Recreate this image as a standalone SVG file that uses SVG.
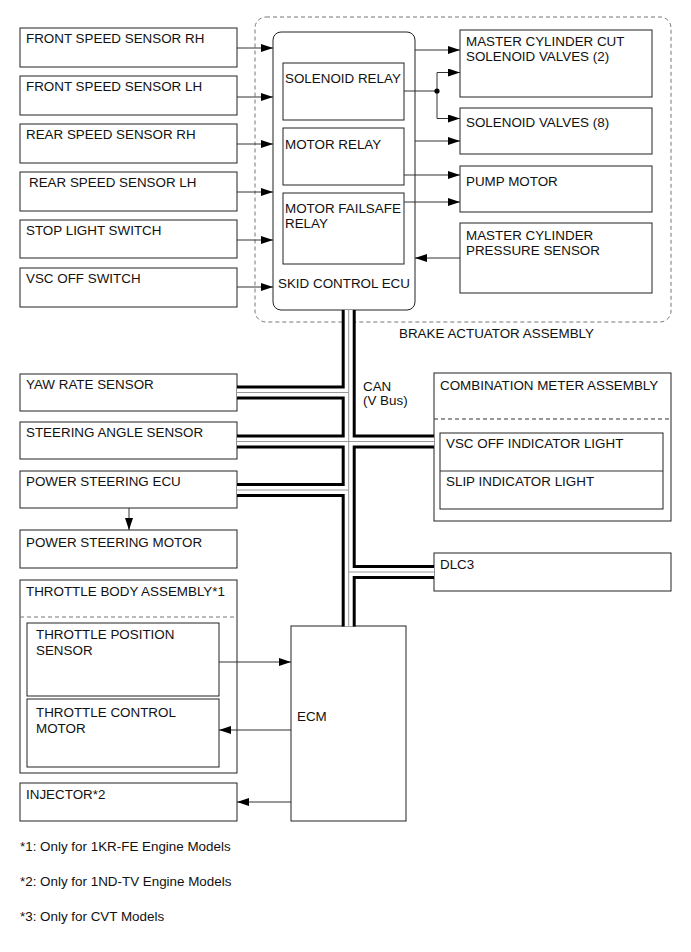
<svg xmlns="http://www.w3.org/2000/svg" width="691" height="952" viewBox="0 0 691 952">
<defs>
<marker id="ah" markerUnits="userSpaceOnUse" markerWidth="12" markerHeight="8" refX="12" refY="4" orient="auto">
<path d="M0,0 L12,4 L0,8 z" fill="#000"/>
</marker>
</defs>
<style>
text{font-family:"Liberation Sans",Arial,sans-serif;font-size:13.4px;fill:#111}
.box{fill:#fff;stroke:#222;stroke-width:1}
.dash{fill:none;stroke:#777;stroke-width:1;stroke-dasharray:4,3}
.ln{fill:none;stroke:#333;stroke-width:1;marker-end:url(#ah)}
.pl{fill:none;stroke:#333;stroke-width:1}
.cb{fill:none;stroke:#000;stroke-width:14}
.cw{fill:none;stroke:#fff;stroke-width:8}
.cg{fill:none;stroke:#999;stroke-width:1}
</style>
<rect x="255" y="17" width="416" height="305" rx="11" class="dash"/>
<text x="399" y="338">BRAKE ACTUATOR ASSEMBLY</text>
<g id="fsrh"><rect x="20" y="28" width="217" height="39" class="box"/><text x="26" y="43">FRONT SPEED SENSOR RH</text></g>
<g id="fslh"><rect x="20" y="76" width="217" height="39" class="box"/><text x="26" y="91">FRONT SPEED SENSOR LH</text></g>
<g id="rsrh"><rect x="20" y="124" width="217" height="39" class="box"/><text x="26" y="139">REAR SPEED SENSOR RH</text></g>
<g id="rslh"><rect x="20" y="172" width="217" height="39" class="box"/><text x="29" y="187">REAR SPEED SENSOR LH</text></g>
<g id="stop"><rect x="20" y="220" width="217" height="38" class="box"/><text x="26" y="235">STOP LIGHT SWITCH</text></g>
<g id="vscsw"><rect x="20" y="268" width="217" height="39" class="box"/><text x="26" y="283">VSC OFF SWITCH</text></g>
<g id="ecu">
<rect x="273" y="32" width="142" height="278" rx="8" class="box"/>
<rect x="283" y="63" width="121" height="57" class="box"/><text x="285" y="83">SOLENOID RELAY</text>
<rect x="283" y="128" width="121" height="57" class="box"/><text x="285" y="149">MOTOR RELAY</text>
<rect x="283" y="193" width="121" height="71" class="box"/><text x="285" y="213">MOTOR FAILSAFE</text><text x="285" y="228">RELAY</text>
<text x="278" y="288">SKID CONTROL ECU</text>
</g>
<g id="mccut"><rect x="460" y="30" width="192" height="67" class="box"/><text x="466" y="46">MASTER CYLINDER CUT</text><text x="466" y="61">SOLENOID VALVES (2)</text></g>
<g id="sv"><rect x="460" y="108" width="192" height="46" class="box"/><text x="466" y="127">SOLENOID VALVES (8)</text></g>
<g id="pump"><rect x="460" y="166" width="192" height="46" class="box"/><text x="466" y="186">PUMP MOTOR</text></g>
<g id="mcps"><rect x="460" y="223" width="192" height="70" class="box"/><text x="466" y="240">MASTER CYLINDER</text><text x="466" y="255">PRESSURE SENSOR</text></g>
<g id="yaw"><rect x="20" y="374" width="217" height="37" class="box"/><text x="26" y="389">YAW RATE SENSOR</text></g>
<g id="steer"><rect x="20" y="422" width="217" height="37" class="box"/><text x="26" y="437">STEERING ANGLE SENSOR</text></g>
<g id="psecu"><rect x="20" y="471" width="217" height="37" class="box"/><text x="26" y="486">POWER STEERING ECU</text></g>
<g id="psmotor"><rect x="20" y="530" width="217" height="38" class="box"/><text x="26" y="547">POWER STEERING MOTOR</text></g>
<g id="throttle">
<rect x="20" y="580" width="217" height="193" class="box"/><text x="26" y="596">THROTTLE BODY ASSEMBLY*1</text>
<line x1="20" y1="617" x2="237" y2="617" class="dash"/>
<rect x="27" y="623" width="192" height="73" class="box"/><text x="36" y="639">THROTTLE POSITION</text><text x="36" y="655">SENSOR</text>
<rect x="27" y="699" width="192" height="68" class="box"/><text x="36" y="717">THROTTLE CONTROL</text><text x="36" y="733">MOTOR</text>
</g>
<g id="injector"><rect x="20" y="783" width="217" height="38" class="box"/><text x="26" y="799">INJECTOR*2</text></g>
<g id="ecm"><rect x="291" y="626" width="115" height="195" class="box"/><text x="297" y="721">ECM</text></g>
<g id="combo">
<rect x="434" y="373" width="237" height="148" class="box"/><text x="440" y="390">COMBINATION METER ASSEMBLY</text>
<line x1="434" y1="419" x2="671" y2="419" class="dash" style="stroke:#333"/>
<rect x="440" y="433" width="223" height="76" class="box"/>
<line x1="440" y1="471" x2="663" y2="471" class="pl"/>
<text x="446" y="448">VSC OFF INDICATOR LIGHT</text><text x="446" y="486">SLIP INDICATOR LIGHT</text>
</g>
<g id="dlc3"><rect x="434" y="553" width="237" height="38" class="box"/><text x="440" y="569">DLC3</text></g>
<g id="connectors">
<path class="ln" d="M237,48 H273"/>
<path class="ln" d="M237,97 H273"/>
<path class="ln" d="M237,144 H273"/>
<path class="ln" d="M237,192 H273"/>
<path class="ln" d="M237,240 H273"/>
<path class="ln" d="M237,287 H273"/>
<path class="ln" d="M415,50 H460"/>
<path class="pl" d="M404,91 H437"/>
<path class="ln" d="M437,91 V72.5 H460"/>
<path class="ln" d="M437,91 V118.5 H460"/>
<circle cx="437" cy="91" r="2.6" fill="#000"/>
<path class="ln" d="M415,141 H460"/>
<path class="ln" d="M404,175 H460"/>
<path class="ln" d="M404,202 H460"/>
<path class="ln" d="M460,258 H415"/>
<path class="ln" d="M129,508 V530"/>
<path class="ln" d="M219,662 H291"/>
<path class="ln" d="M291,730 H219"/>
<path class="ln" d="M291,802 H237"/>
<g id="can">
<path class="cb" d="M348.7,310 V626.5 M237,392.5 H348.7 M237,441.5 H434 M237,490 H348.7 M348.7,572 H434"/>
<path class="cw" d="M348.7,310 V626.5 M237,392.5 H348.7 M237,441.5 H434 M237,490 H348.7 M348.7,572 H434"/>
<path class="cg" d="M348.7,310 V626.5 M237,392.5 H348.7 M237,441.5 H434 M237,490 H348.7 M348.7,572 H434"/>
</g>
</g>
<text x="363" y="391">CAN</text>
<text x="363" y="405">(V Bus)</text>
<text x="20" y="851">*1: Only for 1KR-FE Engine Models</text>
<text x="20" y="886">*2: Only for 1ND-TV Engine Models</text>
<text x="20" y="921">*3: Only for CVT Models</text>
</svg>
